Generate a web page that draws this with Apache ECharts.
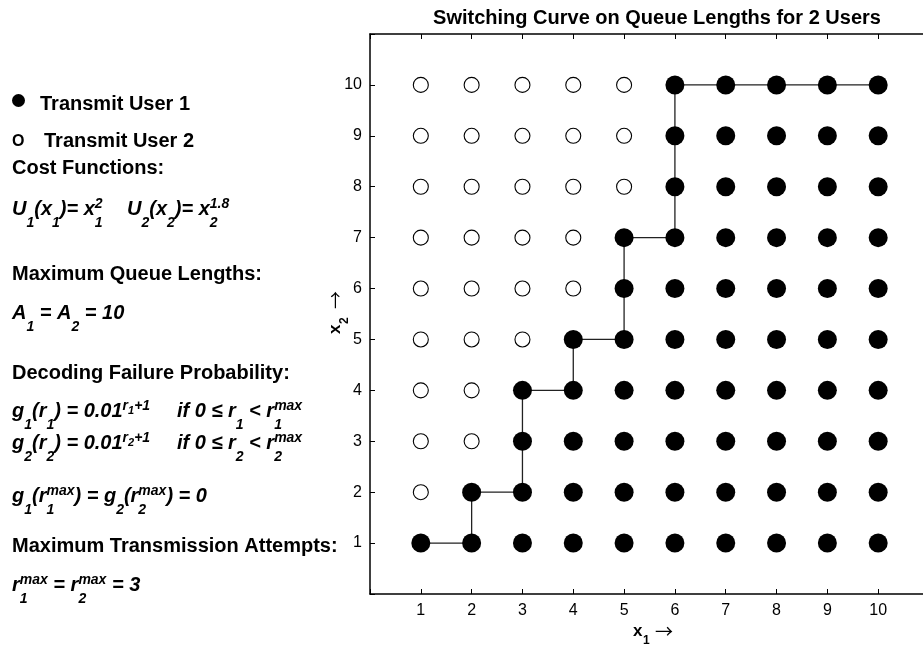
<!DOCTYPE html>
<html><head><meta charset="utf-8">
<script src="https://cdn.jsdelivr.net/npm/echarts@6/dist/echarts.min.js"></script>
<style>html,body{margin:0;padding:0;background:#fff}#c{width:923px;height:650px}</style>
</head><body><div id="c"></div>
<script>
// ---- data ----
const titleText = 'Switching Curve on Queue Lengths for 2 Users';
const xTickLabels = [1, 2, 3, 4, 5, 6, 7, 8, 9, 10];   // x1 values
const yTickLabels = [1, 2, 3, 4, 5, 6, 7, 8, 9, 10];   // x2 values
// decision per row (x2 = 1..10), per column (x1 = 1..10): 1 = transmit user 1 (filled), 2 = transmit user 2 (open)
const decisionRows = [
  [1, 1, 1, 1, 1, 1, 1, 1, 1, 1],
  [2, 1, 1, 1, 1, 1, 1, 1, 1, 1],
  [2, 2, 1, 1, 1, 1, 1, 1, 1, 1],
  [2, 2, 1, 1, 1, 1, 1, 1, 1, 1],
  [2, 2, 2, 1, 1, 1, 1, 1, 1, 1],
  [2, 2, 2, 2, 1, 1, 1, 1, 1, 1],
  [2, 2, 2, 2, 1, 1, 1, 1, 1, 1],
  [2, 2, 2, 2, 2, 1, 1, 1, 1, 1],
  [2, 2, 2, 2, 2, 1, 1, 1, 1, 1],
  [2, 2, 2, 2, 2, 1, 1, 1, 1, 1]
];
// switching curve
const curveX = [1, 2, 2, 3, 3, 3, 4, 4, 5, 5, 5, 6, 6, 6, 6, 7, 8, 9, 10];
const curveY = [1, 1, 2, 2, 3, 4, 4, 5, 5, 6, 7, 7, 8, 9, 10, 10, 10, 10, 10];

// ---- build series data ----
const user1Pts = [], user2Pts = [];
decisionRows.forEach((row, i) => row.forEach((d, j) => {
  (d === 1 ? user1Pts : user2Pts).push([xTickLabels[j], yTickLabels[i]]);
}));
const curvePts = curveX.map((x, i) => [x, curveY[i]]);

// ---- text helpers ----
const FF = '"Liberation Sans", Arial, Helvetica, sans-serif';
const ARROWF = '"Noto Sans CJK SC", "DejaVu Sans", sans-serif';
const mctx = document.createElement('canvas').getContext('2d');
function tw(t, font) { mctx.font = font; return mctx.measureText(t).width; }
const KIND = {
  n: { size: 20, dy: 0 },
  b: { size: 14, dy: 11 },
  p: { size: 14, dy: -8 },
  pb: { size: 11, dy: -4 }
};
function textEl(t, x, baseline, size, weightStyle, fam) {
  return {
    type: 'text', x: x, y: baseline - 0.31 * size,
    style: { text: t, font: weightStyle + ' ' + size + 'px ' + (fam || FF), fill: '#000', verticalAlign: 'middle', align: 'left' }
  };
}
function formula(x0, base, frags, ws) {
  const els = [];
  let x = x0, prevStart = x0;
  frags.forEach(f => {
    const [t, k, stack, absX] = f;
    const K = KIND[k];
    const font = ws + ' ' + K.size + 'px ' + FF;
    let sx = stack ? prevStart : x;
    if (absX !== undefined) sx = absX;
    const w = tw(t, font);
    els.push(textEl(t, sx, base + K.dy, K.size, ws));
    x = stack ? Math.max(x, sx + w) : sx + w;
    prevStart = sx;
  });
  return els;
}
const IB = 'italic bold';
const B = 'bold';
const L = 12;
let gEls = [];
gEls.push({ type: 'circle', shape: { cx: 18.5, cy: 100.5, r: 6.5 }, style: { fill: '#000' } });
gEls.push(textEl('Transmit User 1', 40, 111, 20, B));
gEls.push(textEl('O', 12, 147, 16, B));
gEls.push(textEl('Transmit User 2', 44, 148, 20, B));
gEls.push(textEl('Cost Functions:', L, 175, 20, B));
gEls = gEls.concat(formula(L, 216, [
  ['U', 'n'], ['1', 'b'], ['(x', 'n'], ['1', 'b'], [')= x', 'n'], ['1', 'b'], ['2', 'p', true],
  ['U', 'n', false, 127], ['2', 'b'], ['(x', 'n'], ['2', 'b'], [')= x', 'n'], ['2', 'b'], ['1.8', 'p', true]
], IB));
gEls.push(textEl('Maximum Queue Lengths:', L, 281, 20, B));
gEls = gEls.concat(formula(L, 320, [
  ['A', 'n'], ['1', 'b'], [' = A', 'n'], ['2', 'b'], [' = 10', 'n']
], IB));
gEls.push(textEl('Decoding Failure Probability:', L, 380, 20, B));
[[418, '1'], [450, '2']].forEach(([base, s]) => {
  gEls = gEls.concat(formula(L, base, [
    ['g', 'n'], [s, 'b'], ['(r', 'n'], [s, 'b'], [') = 0.01', 'n'], ['r', 'p'], [s, 'pb'], ['+1', 'p'],
    ['if 0 \u2264 r', 'n', false, 177], [s, 'b'], [' < r', 'n'], ['max', 'p'], [s, 'b', true]
  ], IB));
});
gEls = gEls.concat(formula(L, 503, [
  ['g', 'n'], ['1', 'b'], ['(r', 'n'], ['max', 'p'], ['1', 'b', true], [') = g', 'n'], ['2', 'b'],
  ['(r', 'n'], ['max', 'p'], ['2', 'b', true], [') = 0', 'n']
], IB));
gEls.push(textEl('Maximum Transmission Attempts:', L, 553, 20, B));
gEls = gEls.concat(formula(L, 592, [
  ['r', 'n'], ['max', 'p'], ['1', 'b', true], [' = r', 'n'], ['max', 'p'], ['2', 'b', true], [' = 3', 'n']
], IB));

// axis names
gEls.push(textEl('x', 633, 637, 17, B));
gEls.push(textEl('1', 643, 644, 12, B));
gEls.push(textEl('\u2192', 655, 637, 18, 'normal', ARROWF));
gEls.push({
  type: 'group', x: 341, y: 334, rotation: Math.PI / 2,
  children: [
    textEl('x', 0, 0, 17, B),
    textEl('2', 10, 7, 12, B),
    textEl('\u2192', 25, 0, 18, 'normal', ARROWF)
  ]
});

const axisLineStyle = { color: '#000', width: 1.5 };
const tickStyle = { color: '#000', width: 1 };
function labelFmt(list) { return v => list.includes(v) ? String(v) : ''; }

const option = {
  animation: false,
  backgroundColor: '#fff',
  title: {
    text: titleText, left: 652, top: 3, textAlign: 'center',
    textStyle: { fontFamily: FF, fontWeight: 'bold', fontSize: 20, color: '#000' }
  },
  grid: { left: 370, top: 34, width: 559, height: 560, outerBoundsMode: 'none', containLabel: false },
  xAxis: [
    {
      type: 'value', min: 0, max: 11, interval: 1, position: 'bottom',
      axisLine: { show: true, onZero: false, lineStyle: axisLineStyle },
      axisTick: { show: true, inside: true, length: 5, lineStyle: tickStyle },
      axisLabel: { formatter: labelFmt(xTickLabels), fontSize: 16, color: '#000', fontFamily: FF, margin: 9 },
      splitLine: { show: false }
    },
    {
      type: 'value', min: 0, max: 11, interval: 1, position: 'top',
      axisLine: { show: true, onZero: false, lineStyle: axisLineStyle },
      axisTick: { show: true, inside: true, length: 5, lineStyle: tickStyle },
      axisLabel: { show: false }, splitLine: { show: false }
    }
  ],
  yAxis: [
    {
      type: 'value', min: 0, max: 11, interval: 1, position: 'left',
      axisLine: { show: true, onZero: false, lineStyle: axisLineStyle },
      axisTick: { show: true, inside: true, length: 5, lineStyle: tickStyle },
      axisLabel: { formatter: labelFmt(yTickLabels), fontSize: 16, color: '#000', fontFamily: FF, margin: 8 },
      splitLine: { show: false }
    },
    {
      type: 'value', min: 0, max: 11, interval: 1, position: 'right',
      axisLine: { show: true, onZero: false, lineStyle: axisLineStyle },
      axisTick: { show: true, inside: true, length: 5, lineStyle: tickStyle },
      axisLabel: { show: false }, splitLine: { show: false }
    }
  ],
  series: [
    {
      type: 'line', data: curvePts, showSymbol: false, symbol: 'none', z: 1,
      lineStyle: { color: '#222', width: 1.3 }, silent: true
    },
    {
      type: 'scatter', data: user1Pts, symbol: 'circle', symbolSize: 19, z: 3,
      itemStyle: { color: '#000', opacity: 1 }
    },
    {
      type: 'scatter', data: user2Pts, symbol: 'circle', symbolSize: 15, z: 3,
      itemStyle: { color: '#fff', borderColor: '#000', borderWidth: 1.1, opacity: 1 }
    }
  ],
  graphic: gEls
};
const chart = echarts.init(document.getElementById('c'), null, { renderer: 'canvas' });
chart.setOption(option);
</script></body></html>
